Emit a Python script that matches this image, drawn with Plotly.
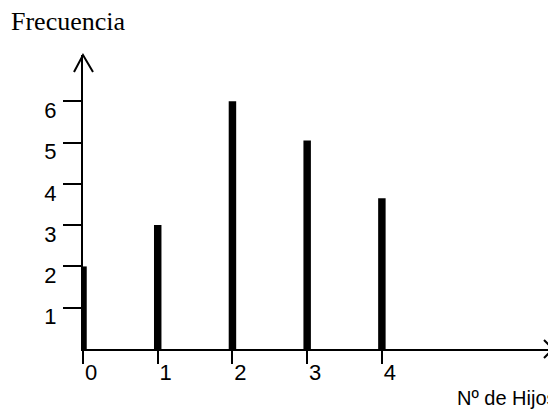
import plotly.graph_objects as go

# Data
hijos = [0, 1, 2, 3, 4]
frecuencia = [2, 3, 6, 5.05, 3.65]
y_ticks = [1, 2, 3, 4, 5, 6]
x_ticks = [0, 1, 2, 3, 4]

# page body has an 8px margin; figure sized to fill the rest of the window
W, H = 548, 403
ML, MR, MT, MB = 75, 3, 47, 62
XMAX = 6.29
YMAX = 7.12
PW, PH = W - ML - MR, H - MT - MB

sans = "Liberation Sans, Arial, sans-serif"
serif = "Liberation Serif, Times New Roman, serif"


def px_x(px):
    return (px - ML) / PW


def px_y(py):
    return (H - MB - py) / PH


fig = go.Figure()
fig.add_trace(go.Bar(
    x=hijos, y=frecuencia, width=0.1,
    marker=dict(color="black", line=dict(width=0)),
    showlegend=False, hoverinfo="skip",
))

fig.update_layout(
    width=W, height=H,
    margin=dict(l=ML, r=MR, t=MT, b=MB, pad=0),
    paper_bgcolor="white", plot_bgcolor="white",
    showlegend=False,
    xaxis=dict(
        range=[0, XMAX], showgrid=False, zeroline=False,
        showline=True, linecolor="black", linewidth=2,
        tickmode="array", tickvals=x_ticks, ticktext=[str(v) for v in x_ticks],
        ticks="outside", ticklen=13, tickwidth=1.5, tickcolor="black",
        tickfont=dict(family=sans, size=22, color="black"),
        ticklabelshift=8, ticklabelstandoff=-10,
    ),
    yaxis=dict(
        range=[0, YMAX], showgrid=False, zeroline=False,
        showline=True, linecolor="black", linewidth=2,
        tickmode="array", tickvals=y_ticks, ticktext=[str(v) for v in y_ticks],
        ticks="outside", ticklen=18, tickwidth=1.5, tickcolor="black",
        tickfont=dict(family=sans, size=22, color="black"),
        ticklabelshift=9, ticklabelstandoff=2,
    ),
    shapes=[
        dict(type="path", xref="paper", yref="paper",
             xsizemode="pixel", ysizemode="pixel", xanchor=0, yanchor=1,
             path="M -9 -17 L 0 0 L 10 -17",
             line=dict(color="black", width=2)),
        dict(type="path", xref="paper", yref="paper",
             xsizemode="pixel", ysizemode="pixel", xanchor=1, yanchor=0,
             path="M -9 9 L 0 0 L -9 -9",
             line=dict(color="black", width=2)),
    ],
    annotations=[
        dict(text="Frecuencia", xref="paper", yref="paper",
             x=px_x(1), y=px_y(14),
             xanchor="left", yanchor="middle", showarrow=False,
             font=dict(family=serif, size=26, color="black")),
        dict(text="Nº de Hijos", xref="paper", yref="paper",
             x=px_x(447), y=px_y(390),
             xanchor="left", yanchor="middle", showarrow=False,
             font=dict(family=sans, size=20, color="black")),
    ],
)

fig.write_html("out.html")
